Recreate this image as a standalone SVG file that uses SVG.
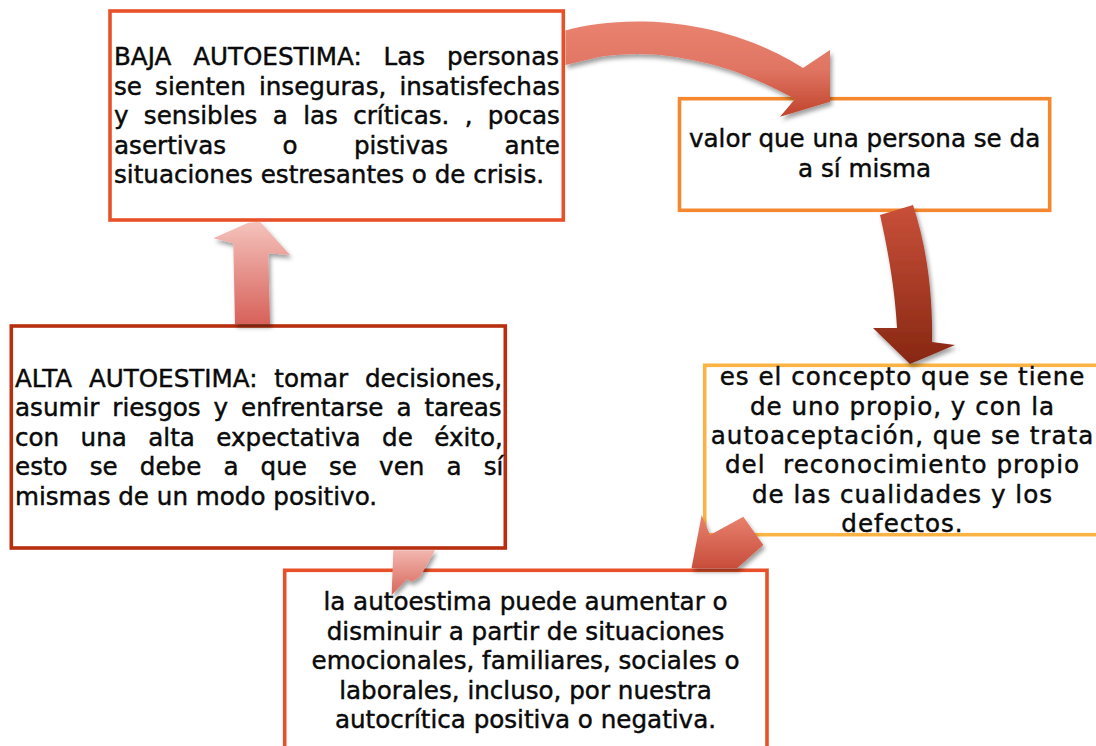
<svg xmlns="http://www.w3.org/2000/svg" width="1096" height="746" viewBox="0 0 1096 746">
<style>
.box{fill:#fff;stroke-width:3.6}
.t{font-family:"DejaVu Sans","Liberation Sans",sans-serif;font-size:24.6px;fill:#0a0a0a;stroke:#0a0a0a;stroke-width:0.45}
.c{text-anchor:middle}
.arrow{filter:url(#sh)}
</style>
<defs>
<filter id="sh" x="-30%" y="-30%" width="160%" height="160%">
<feDropShadow dx="2" dy="3.5" stdDeviation="2.2" flood-color="#000" flood-opacity="0.38"/>
</filter>
<linearGradient id="gA" x1="0" y1="0" x2="0" y2="1"><stop offset="0" stop-color="#e9826f"/><stop offset="0.5" stop-color="#e07563"/><stop offset="1" stop-color="#c0432b"/></linearGradient>
<linearGradient id="gB" x1="0" y1="0" x2="0" y2="1"><stop offset="0" stop-color="#c9503a"/><stop offset="1" stop-color="#872712"/></linearGradient>
<linearGradient id="gC" x1="0" y1="0" x2="0" y2="1"><stop offset="0" stop-color="#e8826f"/><stop offset="1" stop-color="#c84d3b"/></linearGradient>
<linearGradient id="gD" x1="0" y1="0" x2="0" y2="1"><stop offset="0" stop-color="#f1b7af"/><stop offset="1" stop-color="#d9655a"/></linearGradient>
<linearGradient id="gE" x1="0" y1="0" x2="0" y2="1"><stop offset="0" stop-color="#f4c3bc"/><stop offset="1" stop-color="#d7615a"/></linearGradient>
</defs>
<rect width="1096" height="746" fill="#fff"/>

<g id="node-baja">
<rect class="box" x="110" y="11" width="453.3" height="209" stroke="#e8502a"/>
<text class="t" x="114" y="65" word-spacing="14">BAJA AUTOESTIMA: Las personas</text>
<text class="t" x="114" y="94.5" word-spacing="5.3">se sienten inseguras, insatisfechas</text>
<text class="t" x="114" y="124" word-spacing="7.5">y sensibles a las críticas. , pocas</text>
<text class="t" x="114" y="153.5" word-spacing="48.6">asertivas o pistivas ante</text>
<text class="t" x="114" y="183">situaciones estresantes o de crisis.</text>
</g>

<g id="node-valor">
<rect class="box" x="679.5" y="98.7" width="370.2" height="111.6" stroke="#f5882e"/>
<text class="t c" x="864.6" y="147">valor que una persona se da</text>
<text class="t c" x="864.6" y="177">a sí misma</text>
</g>

<g id="node-alta">
<rect class="box" x="11.3" y="326" width="494" height="222" stroke="#b72f0f"/>
<text class="t" x="15" y="387" word-spacing="9">ALTA AUTOESTIMA: tomar decisiones,</text>
<text class="t" x="15" y="416" word-spacing="5.1">asumir riesgos y enfrentarse a tareas</text>
<text class="t" x="15" y="445.5" word-spacing="13.6">con una alta expectativa de éxito,</text>
<text class="t" x="15" y="475" word-spacing="14.3">esto se debe a que se ven a sí</text>
<text class="t" x="15" y="504.5">mismas de un modo positivo.</text>
</g>

<g id="node-concepto">
<rect class="box" x="704.7" y="365.3" width="395" height="169.4" stroke="#fbb443"/>
<text class="t c" x="902.5" y="385" letter-spacing="1">es el concepto que se tiene</text>
<text class="t c" x="902.5" y="414.5" letter-spacing="1">de uno propio, y con la</text>
<text class="t c" x="902.5" y="443.5" letter-spacing="1">autoaceptación, que se trata</text>
<text class="t c" x="902.5" y="473" letter-spacing="1" xml:space="preserve">del  reconocimiento propio</text>
<text class="t c" x="902.5" y="502.5" letter-spacing="1">de las cualidades y los</text>
<text class="t c" x="902.5" y="532" letter-spacing="1">defectos.</text>
</g>

<g id="node-autoestima">
<rect class="box" x="284.7" y="570.3" width="482.3" height="190" stroke="#e8502a"/>
<text class="t c" x="525.5" y="610">la autoestima puede aumentar o</text>
<text class="t c" x="525.5" y="639.5">disminuir a partir de situaciones</text>
<text class="t c" x="525.5" y="669">emocionales, familiares, sociales o</text>
<text class="t c" x="525.5" y="698.5">laborales, incluso, por nuestra</text>
<text class="t c" x="525.5" y="728">autocrítica positiva o negativa.</text>
</g>

<g id="connectors">
<path class="arrow" fill="url(#gA)" d="M565.5,30.5 C620,15 720,15 803,68 L830,50 L830,101.7 L780,116.7 L795,99 C770,86 740,70 700,61.7 C670,55 640,51 600,56.7 L565.5,65 Z"/>
<path class="arrow" fill="url(#gB)" d="M880,215 C888,250 895,290 897,328 L873,328 L910,364 L955,345 L932,342 C933,300 928,250 913,205 Z"/>
<path class="arrow" fill="url(#gC)" d="M701.7,515 L710,535 L743.3,516.7 L763.3,545 L737,568.3 L691.5,568.3 Z"/>
<path class="arrow" fill="url(#gD)" d="M393.3,550.2 L435,550.2 L420,576.7 L411.7,581.7 L406.7,579.3 L391.7,595 C392,580 393,565 393.3,550.2 Z"/>
<path class="arrow" fill="url(#gE)" d="M248.3,222.7 L260,221.7 L290,255 L268.3,253.3 L270,324 L235,324 L233.3,243.3 L213.3,238.3 Z"/>
</g>
</svg>
